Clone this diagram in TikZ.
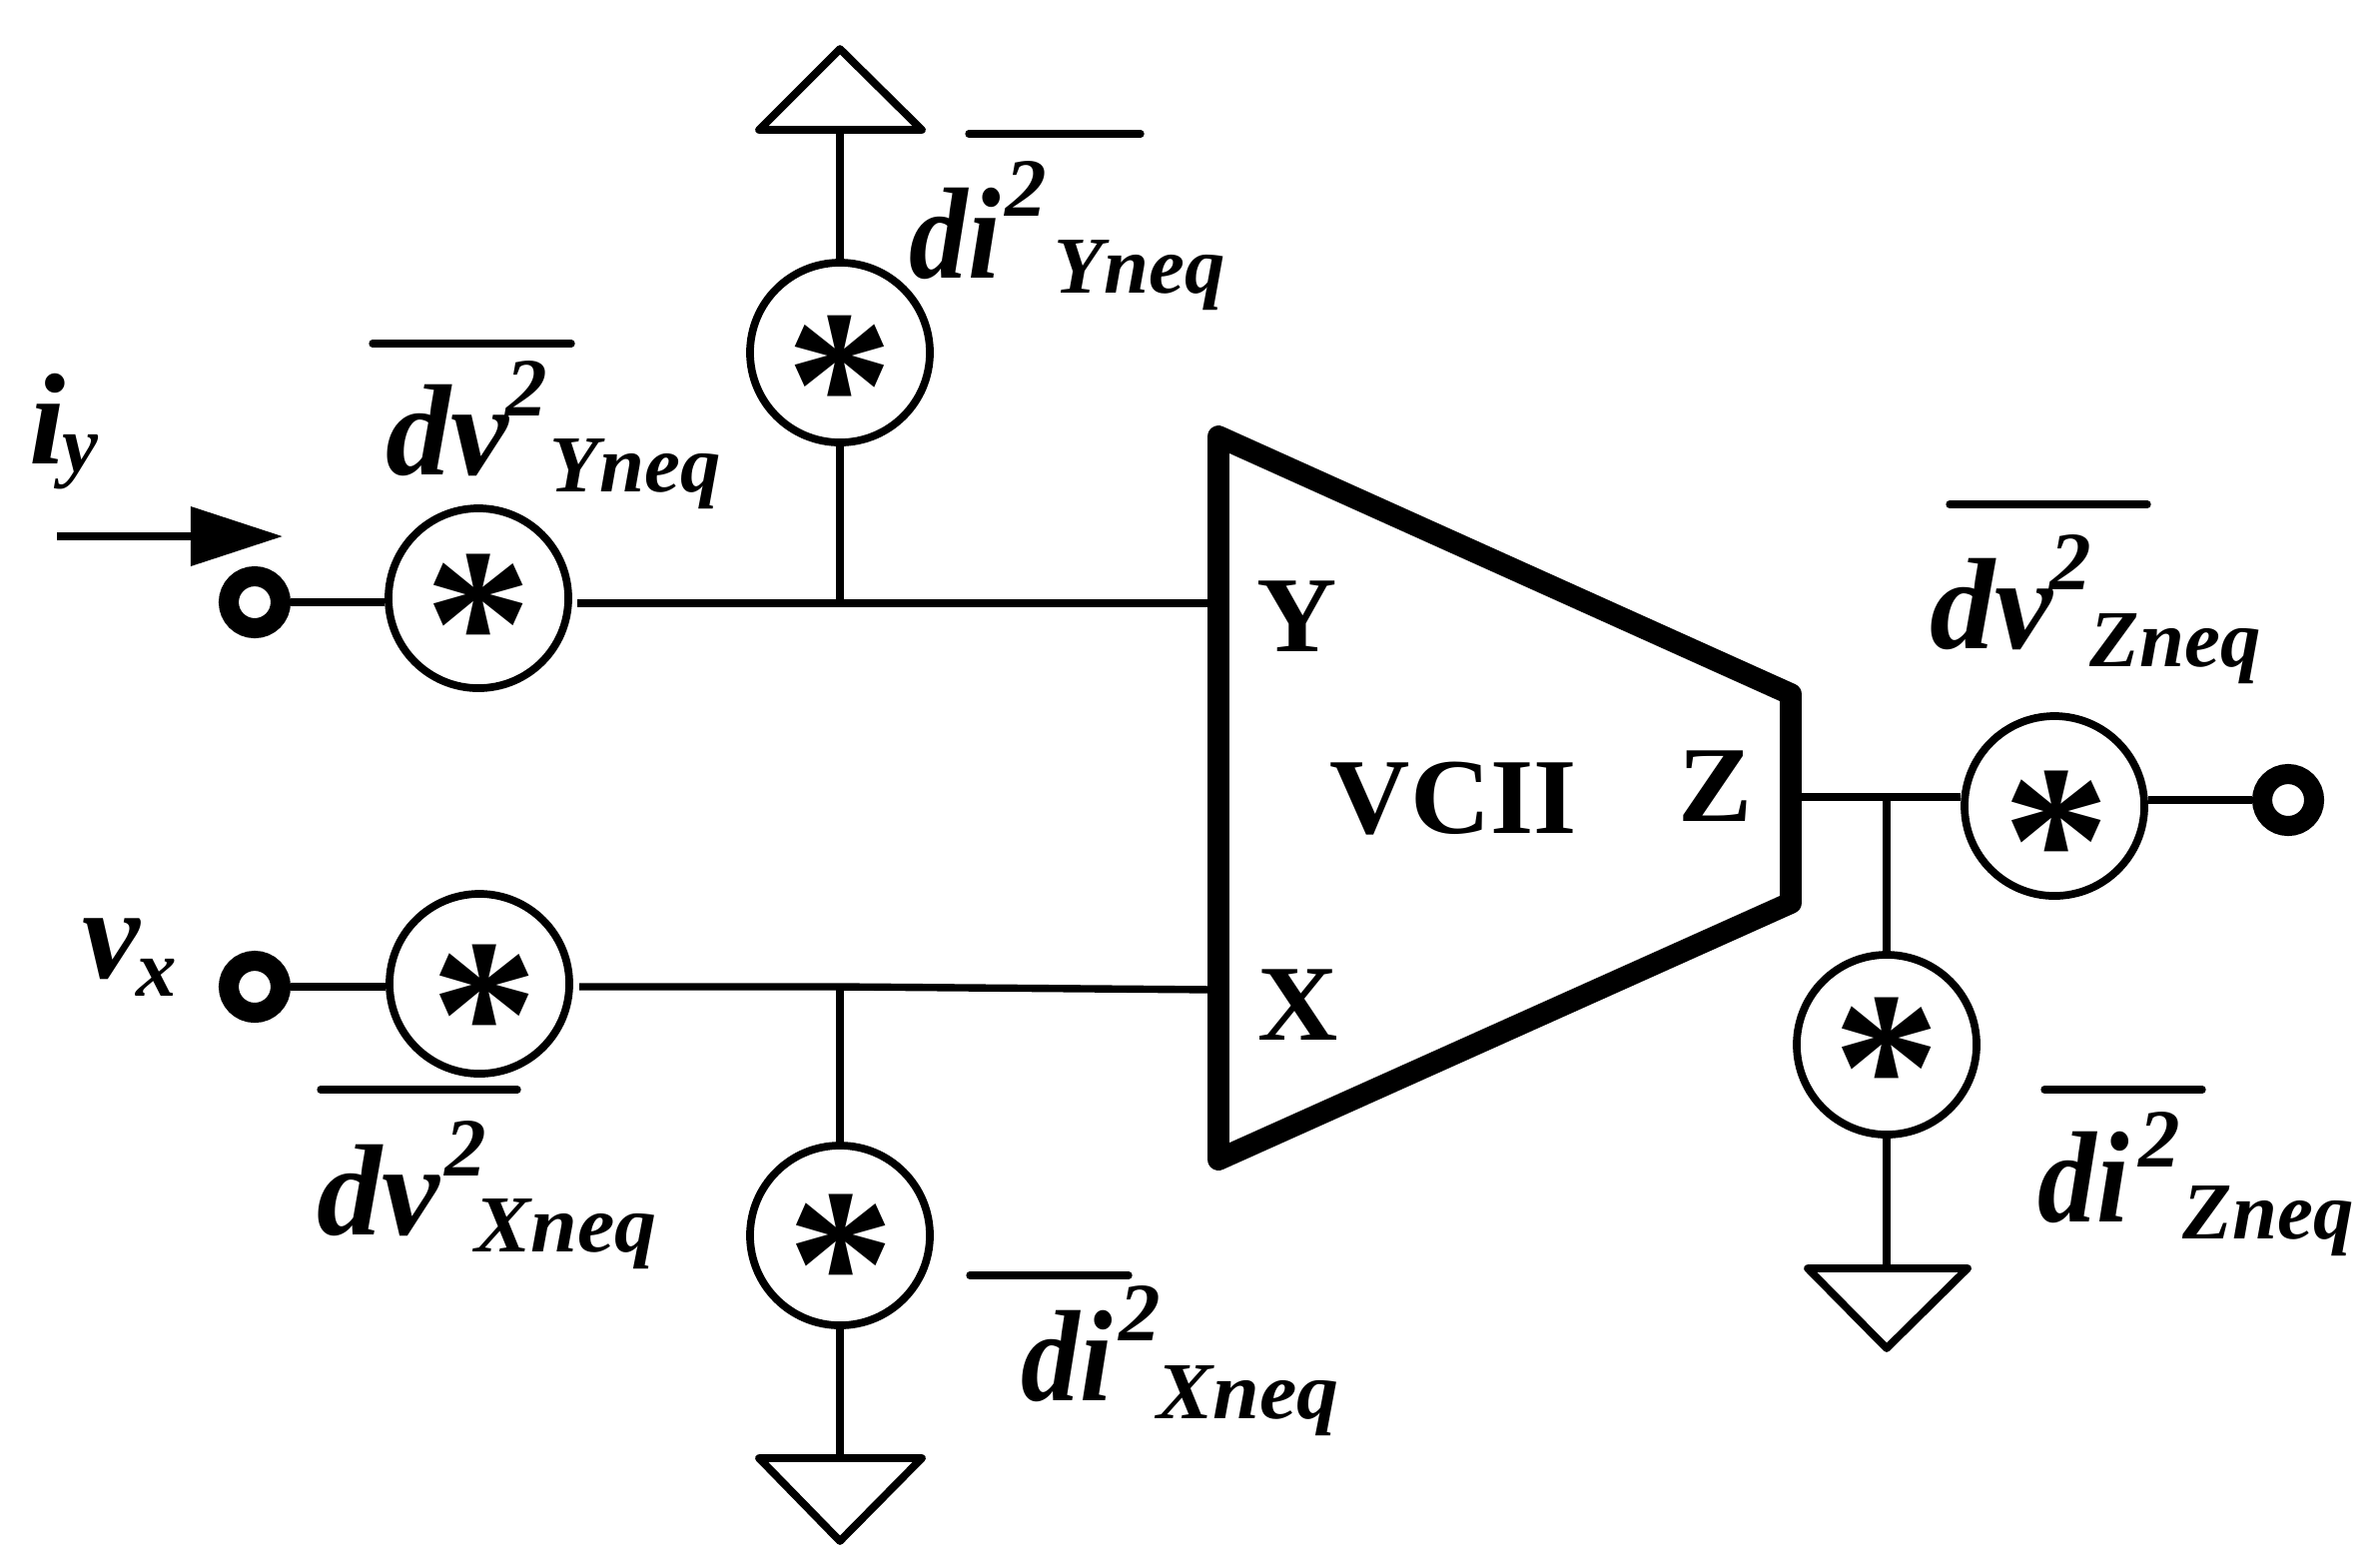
\documentclass[tikz,border=0pt]{standalone}
\usepackage{fontspec}
\setmainfont{Liberation Serif}
\usetikzlibrary{arrows.meta}
\tikzset{
  wire/.style={line width=2.1pt,line cap=butt},
  barline/.style={line width=2.1pt,line cap=round},
  gnd/.style={line width=2.2pt,line join=round,fill=white},
  noise/.style={circle,draw,line width=2.2pt,minimum size=51.2pt,inner sep=0pt},
  term/.style={circle,draw,line width=5.7pt,minimum size=14.8pt,inner sep=0pt},
  body/.style={line width=6.2pt,line join=round},
  mainit/.style={anchor=base west,inner sep=0pt,font=\fontsize{37}{37}\selectfont\bfseries\itshape},
  narrowit/.style={mainit,xscale=.9},
  subit/.style={anchor=base west,inner sep=0pt,font=\fontsize{23}{23}\selectfont\bfseries\itshape},
  supit/.style={anchor=base west,inner sep=0pt,font=\fontsize{23.6}{23.6}\selectfont\bfseries\itshape},
  port/.style={anchor=base west,inner sep=0pt,xscale=1.03,font=\fontsize{30.7}{30.7}\selectfont\bfseries},
  starmark/.style={anchor=base,inner sep=0pt,font=\fontsize{61}{61}\selectfont\bfseries},
}
\begin{document}
\begin{tikzpicture}[x=0.01cm,y=-0.01cm]
\useasboundingbox (0,0) rectangle (2383,1568);
% amplifier body
\coordinate (tl) at (1220,437);
\coordinate (tr) at (1793,695);
\coordinate (br) at (1793,904);
\coordinate (bl) at (1220,1161);
\coordinate (inY) at (1220,604);
\coordinate (inX) at (1220,991);
\coordinate (outZ) at (1793,798);
\draw[body] (tl) -- (tr) -- (br) -- (bl) -- cycle;
% noise sources
\node[noise] (cY) at (479,599) {};
\node[noise] (cYi) at (841,353) {};
\node[noise] (cX) at (480,985) {};
\node[noise] (cXi) at (841,1237) {};
\node[noise] (cZ) at (2057,807) {};
\node[noise] (cZi) at (1889,1046) {};
% asterisks
\node[starmark] (sY) at (479,696) {*};
\node[starmark,rotate=180] (sYi) at (841,255) {*};
\node[starmark] (sX) at (485,1087) {*};
\node[starmark] (sXi) at (842,1337) {*};
\node[starmark] (sZ) at (2059,913) {*};
\node[starmark] (sZi) at (1889,1140) {*};
% terminals
\node[term] (tY) at (255,603) {};
\node[term] (tX) at (255,988) {};
\node[term] (tZ) at (2291,801) {};
% grounds
\coordinate (g1a) at (841,49);
\coordinate (g1l) at (760,130);
\coordinate (g1r) at (923,130);
\coordinate (g1m) at (841,130);
\draw[gnd] (g1a) -- (g1l) -- (g1r) -- cycle;
\coordinate (g2a) at (841,1543);
\coordinate (g2l) at (760,1460);
\coordinate (g2r) at (923,1460);
\coordinate (g2m) at (841,1460);
\draw[gnd] (g2a) -- (g2l) -- (g2r) -- cycle;
\coordinate (g3a) at (1889,1350);
\coordinate (g3l) at (1810,1270);
\coordinate (g3r) at (1970,1270);
\coordinate (g3m) at (1889,1270);
\draw[gnd] (g3a) -- (g3l) -- (g3r) -- cycle;
% junctions
\coordinate (jY) at (841,604);
\coordinate (jX) at (841,988);
\coordinate (jZ) at (1889,798);
% connectors
\draw[wire] (tY) -- (tY -| cY.west);
\draw[wire] (578,604) -- (jY) -- (inY);
\draw[wire] (g1m) -- (cYi);
\draw[wire] (cYi) -- (jY);
\draw[wire] (tX) -- (tX -| cX.west);
\draw[wire] (580,988) -- (jX) -- (inX);
\draw[wire] (jX) -- (cXi);
\draw[wire] (cXi) -- (g2m);
\draw[wire] (outZ) -- (jZ) -- (jZ -| cZ.west);
\draw[wire] (tZ -| cZ.east) -- (tZ);
\draw[wire] (jZ) -- (cZi);
\draw[wire] (cZi) -- (g3m);
% input current arrow
\coordinate (a0) at (57,537);
\coordinate (a1) at (283,537);
\draw[line width=2.1pt,-{Triangle[length=26.2pt,width=16.5pt]}] (a0) -- (a1);
% overbars
\draw[barline] (373,344) -- (572,344);
\draw[barline] (970,134) -- (1142,134);
\draw[barline] (321,1091) -- (518,1091);
\draw[barline] (971,1277) -- (1130,1277);
\draw[barline] (1952,505) -- (2150,505);
\draw[barline] (2047,1091) -- (2205,1091);
% labels
\node[mainit] (iy) at (29,464) {i};
\node[subit] (iys) at (62,472) {y};
\node[mainit] (vx) at (82,979) {v};
\node[subit] (vxs) at (136,997) {x};
\node[mainit] (l1) at (386,475) {dv};
\node[supit] (l1a) at (506,416) {2};
\node[subit] (l1b) at (550,492) {Yneq};
\node[narrowit] (l2) at (910,278) {di};
\node[supit] (l2a) at (1006,216) {2};
\node[subit] (l2b) at (1055,293) {Yneq};
\node[mainit] (l3) at (317,1236) {dv};
\node[supit] (l3a) at (445,1177) {2};
\node[subit,xscale=1.04] (l3b) at (475,1253) {Xneq};
\node[narrowit] (l4) at (1022,1402) {di};
\node[supit] (l4a) at (1120,1342) {2};
\node[subit,xscale=1.04] (l4b) at (1158,1420) {Xneq};
\node[mainit] (l5) at (1932,649) {dv};
\node[supit] (l5a) at (2052,590) {2};
\node[subit] (l5b) at (2092,667) {Zneq};
\node[narrowit] (l6) at (2040,1223) {di};
\node[supit] (l6a) at (2141,1168) {2};
\node[subit] (l6b) at (2185,1240) {Zneq};
\node[port] (pY) at (1258,652) {Y};
\node[port] (pX) at (1259,1041) {X};
\node[port] (pV) at (1331,834) {VCII};
\node[port] (pZ) at (1680,822) {Z};
\end{tikzpicture}
\end{document}
